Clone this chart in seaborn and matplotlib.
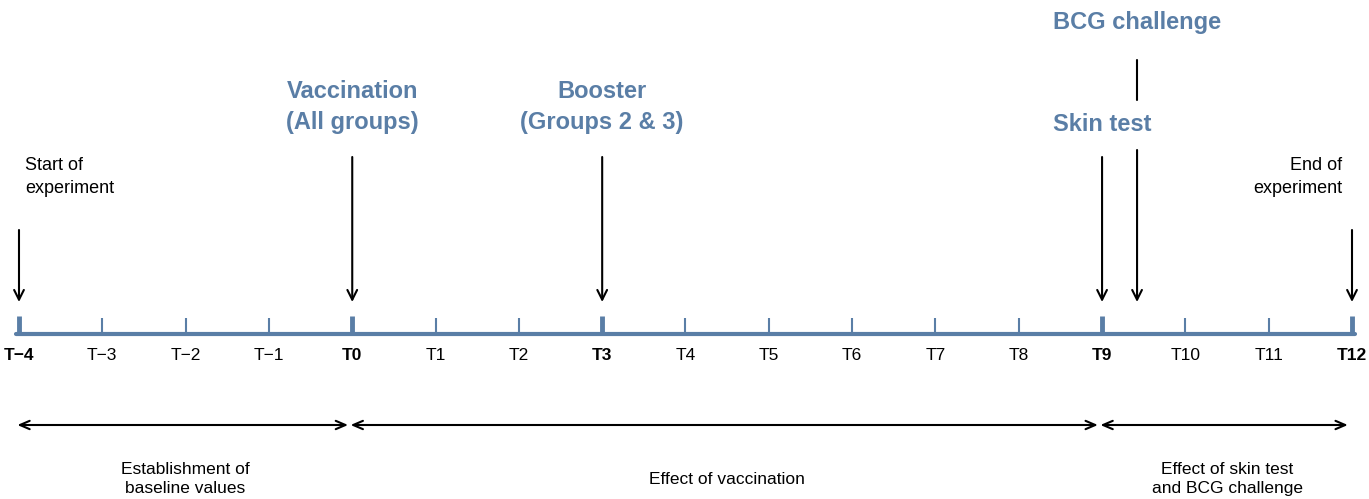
import numpy as np
import pandas as pd
import matplotlib
matplotlib.use("Agg")
import matplotlib.pyplot as plt
import seaborn as sns

# timepoints on the axis
timepoints = list(range(-4, 13))
tick_labels = [f"T\u2212{-t}" if t < 0 else f"T{t}" for t in timepoints]
key_points = [-4, 0, 3, 9, 12]

# events (time, label)
event_times = [0, 3, 9, 9.42]
event_labels = ["Vaccination\n(All groups)", "Booster\n(Groups 2 & 3)", "Skin test", "BCG challenge"]

# phases (start, end, label)
phase_starts = [-4, 0, 9]
phase_ends = [0, 9, 12]
phase_labels = ["Establishment of\nbaseline values", "Effect of vaccination",
                "Effect of skin test\nand BCG challenge"]

blue = "#5a7ea6"

sns.set_style("white")
plt.rcParams["font.family"] = ["Liberation Sans", "DejaVu Sans"]
plt.rcParams["text.color"] = "black"

fig = plt.figure(figsize=(13.69, 4.99), dpi=100)
ax = fig.add_axes([0, 0, 1, 1])
ax.set_xlim(-4.228, 12.204)
ax.set_ylim(499, 0)
ax.axis("off")

# main time axis
axis_y = 334
axis_df = pd.DataFrame({"t": [timepoints[0] - 0.04, timepoints[-1] + 0.04], "y": [axis_y, axis_y]})
sns.lineplot(data=axis_df, x="t", y="y", ax=ax, color=blue, linewidth=3)

for t, lab in zip(timepoints, tick_labels):
    key = t in key_points
    ax.vlines(t, 316 if key else 318, axis_y, color=blue,
              linewidth=3.5 if key else 1.5)
    ax.text(t, 356, lab, ha="center", va="center", fontsize=12.5,
            fontweight="bold" if key else "normal", color="black")

arrow = dict(arrowstyle="->,head_width=0.35,head_length=0.7", color="black", lw=1.5,
             shrinkA=0, shrinkB=0)

# start / end of experiment
ax.annotate("", xy=(-4, 302), xytext=(-4, 230), arrowprops=arrow)
ax.annotate("", xy=(12, 302), xytext=(12, 230), arrowprops=arrow)
ax.text(-4.228 + 25 / 83.31, 177, "Start of\nexperiment", ha="left", va="center",
        fontsize=13, linespacing=1.45)
ax.text(12.204 - 27 / 83.31, 177, "End of\nexperiment", ha="right", va="center",
        fontsize=13, linespacing=1.45, multialignment="right")

# events
for t, lab in zip(event_times, event_labels):
    if lab == "BCG challenge":
        ax.plot([t, t], [60, 100], color="black", lw=1.5)
        ax.annotate("", xy=(t, 302), xytext=(t, 150), arrowprops=arrow)
        ax.text(t, 22, lab, ha="center", va="center", fontsize=17,
                fontweight="bold", color=blue)
    else:
        ax.annotate("", xy=(t, 302), xytext=(t, 157), arrowprops=arrow)
        ypos = 124 if lab == "Skin test" else 107
        ax.text(t, ypos, lab, ha="center", va="center", fontsize=17,
                fontweight="bold", color=blue, linespacing=1.4)

# phases
for s, e, lab in zip(phase_starts, phase_ends, phase_labels):
    ax.annotate("", xy=(e - 0.05, 425), xytext=(s - 0.02, 425),
                arrowprops=dict(arrowstyle="<->,head_width=0.3,head_length=0.7",
                                color="black", lw=1.5, shrinkA=0, shrinkB=0))
    ax.text((s + e) / 2, 479, lab, ha="center", va="center", fontsize=12.5,
            linespacing=1.4)

fig.savefig("out.png", dpi=100)
